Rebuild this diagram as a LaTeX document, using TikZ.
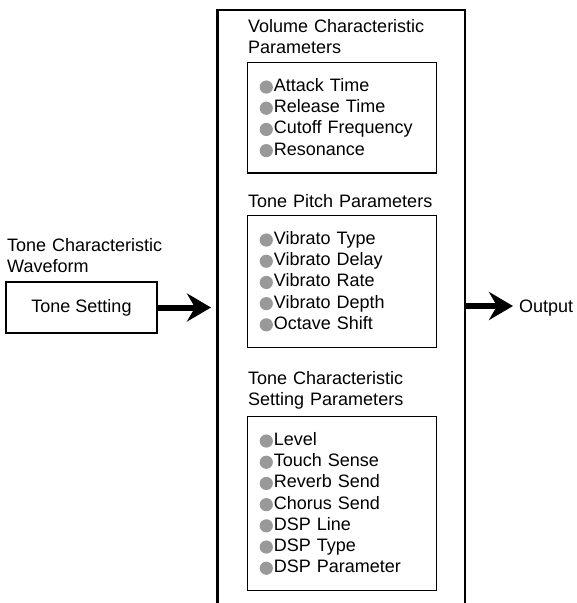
\documentclass[tikz,border=0pt]{standalone}
\usepackage{fontspec}
\setmainfont{Liberation Sans}
\usepackage{tikz}
\usetikzlibrary{arrows.meta, positioning, calc}

\newcommand{\dotmark}{\tikz[baseline=-4.5pt]\fill[black!40] (0,0) circle (6.6pt);\hspace{1pt}}
\newcommand{\laststrut}{\rule[-4pt]{0pt}{15pt}}

\begin{document}
\begin{tikzpicture}[
    x=1pt, y=-1pt,
    every node/.style={font=\fontsize{18}{21.2}\selectfont},
    heading/.style={anchor=base west, inner sep=0pt, text width=210pt, align=left},
    listbox/.style={draw, line width=1.4pt, anchor=north west, inner xsep=12pt, inner ysep=14pt, text width=165pt, align=left},
    setbox/.style={draw, line width=1.2pt, minimum width=151pt, minimum height=51pt},
    frame/.style={line width=2.8pt},
    bigarrow/.style={line width=6pt, -{Stealth[length=24pt, width=28pt, inset=8pt]}}
]
\useasboundingbox (0,0) rectangle (577,603);

% Input side
\node[heading] (waveform) at (7,251) {Tone Characteristic\\Waveform};
\node[setbox] (tone) at (81.5,307.5) {Tone Setting};
\coordinate (intip) at (211,307.5);

% Parameter frame (open at the bottom)
\coordinate (fbl) at (217.5,604);
\coordinate (ftr) at (465,10);
\coordinate (fbr) at (465,604);
\draw[frame] (fbl) |- (ftr) -- (fbr);

% Volume
\node[heading] (volhead) at (248,32) {Volume Characteristic\\Parameters};
\node[listbox] (volbox) at (247,62) {%
    \strut\dotmark Attack Time\\
    \strut\dotmark Release Time\\
    \strut\dotmark Cutoff Frequency\\
    \laststrut\dotmark Resonance};

% Pitch
\node[heading] (pitchhead) at (248,207) {Tone Pitch Parameters};
\node[listbox] (pitchbox) at (247,215) {%
    \strut\dotmark Vibrato Type\\
    \strut\dotmark Vibrato Delay\\
    \strut\dotmark Vibrato Rate\\
    \strut\dotmark Vibrato Depth\\
    \laststrut\dotmark Octave Shift};

% Tone characteristic settings
\node[heading] (sethead) at (248,384.5) {Tone Characteristic\\Setting Parameters};
\node[listbox] (setlist) at (247,416) {%
    \strut\dotmark Level\\
    \strut\dotmark Touch Sense\\
    \strut\dotmark Reverb Send\\
    \strut\dotmark Chorus Send\\
    \strut\dotmark DSP Line\\
    \strut\dotmark DSP Type\\
    \laststrut\dotmark DSP Parameter};

% Output side
\coordinate (outtail) at (465,306);
\node[anchor=base west, inner sep=0pt] (output) at (519,312) {Output};

% Arrows
\draw[bigarrow] (tone.east) -- (intip);
\draw[bigarrow, shorten >=6pt] (outtail) -- (outtail -| output.west);

\end{tikzpicture}
\end{document}
